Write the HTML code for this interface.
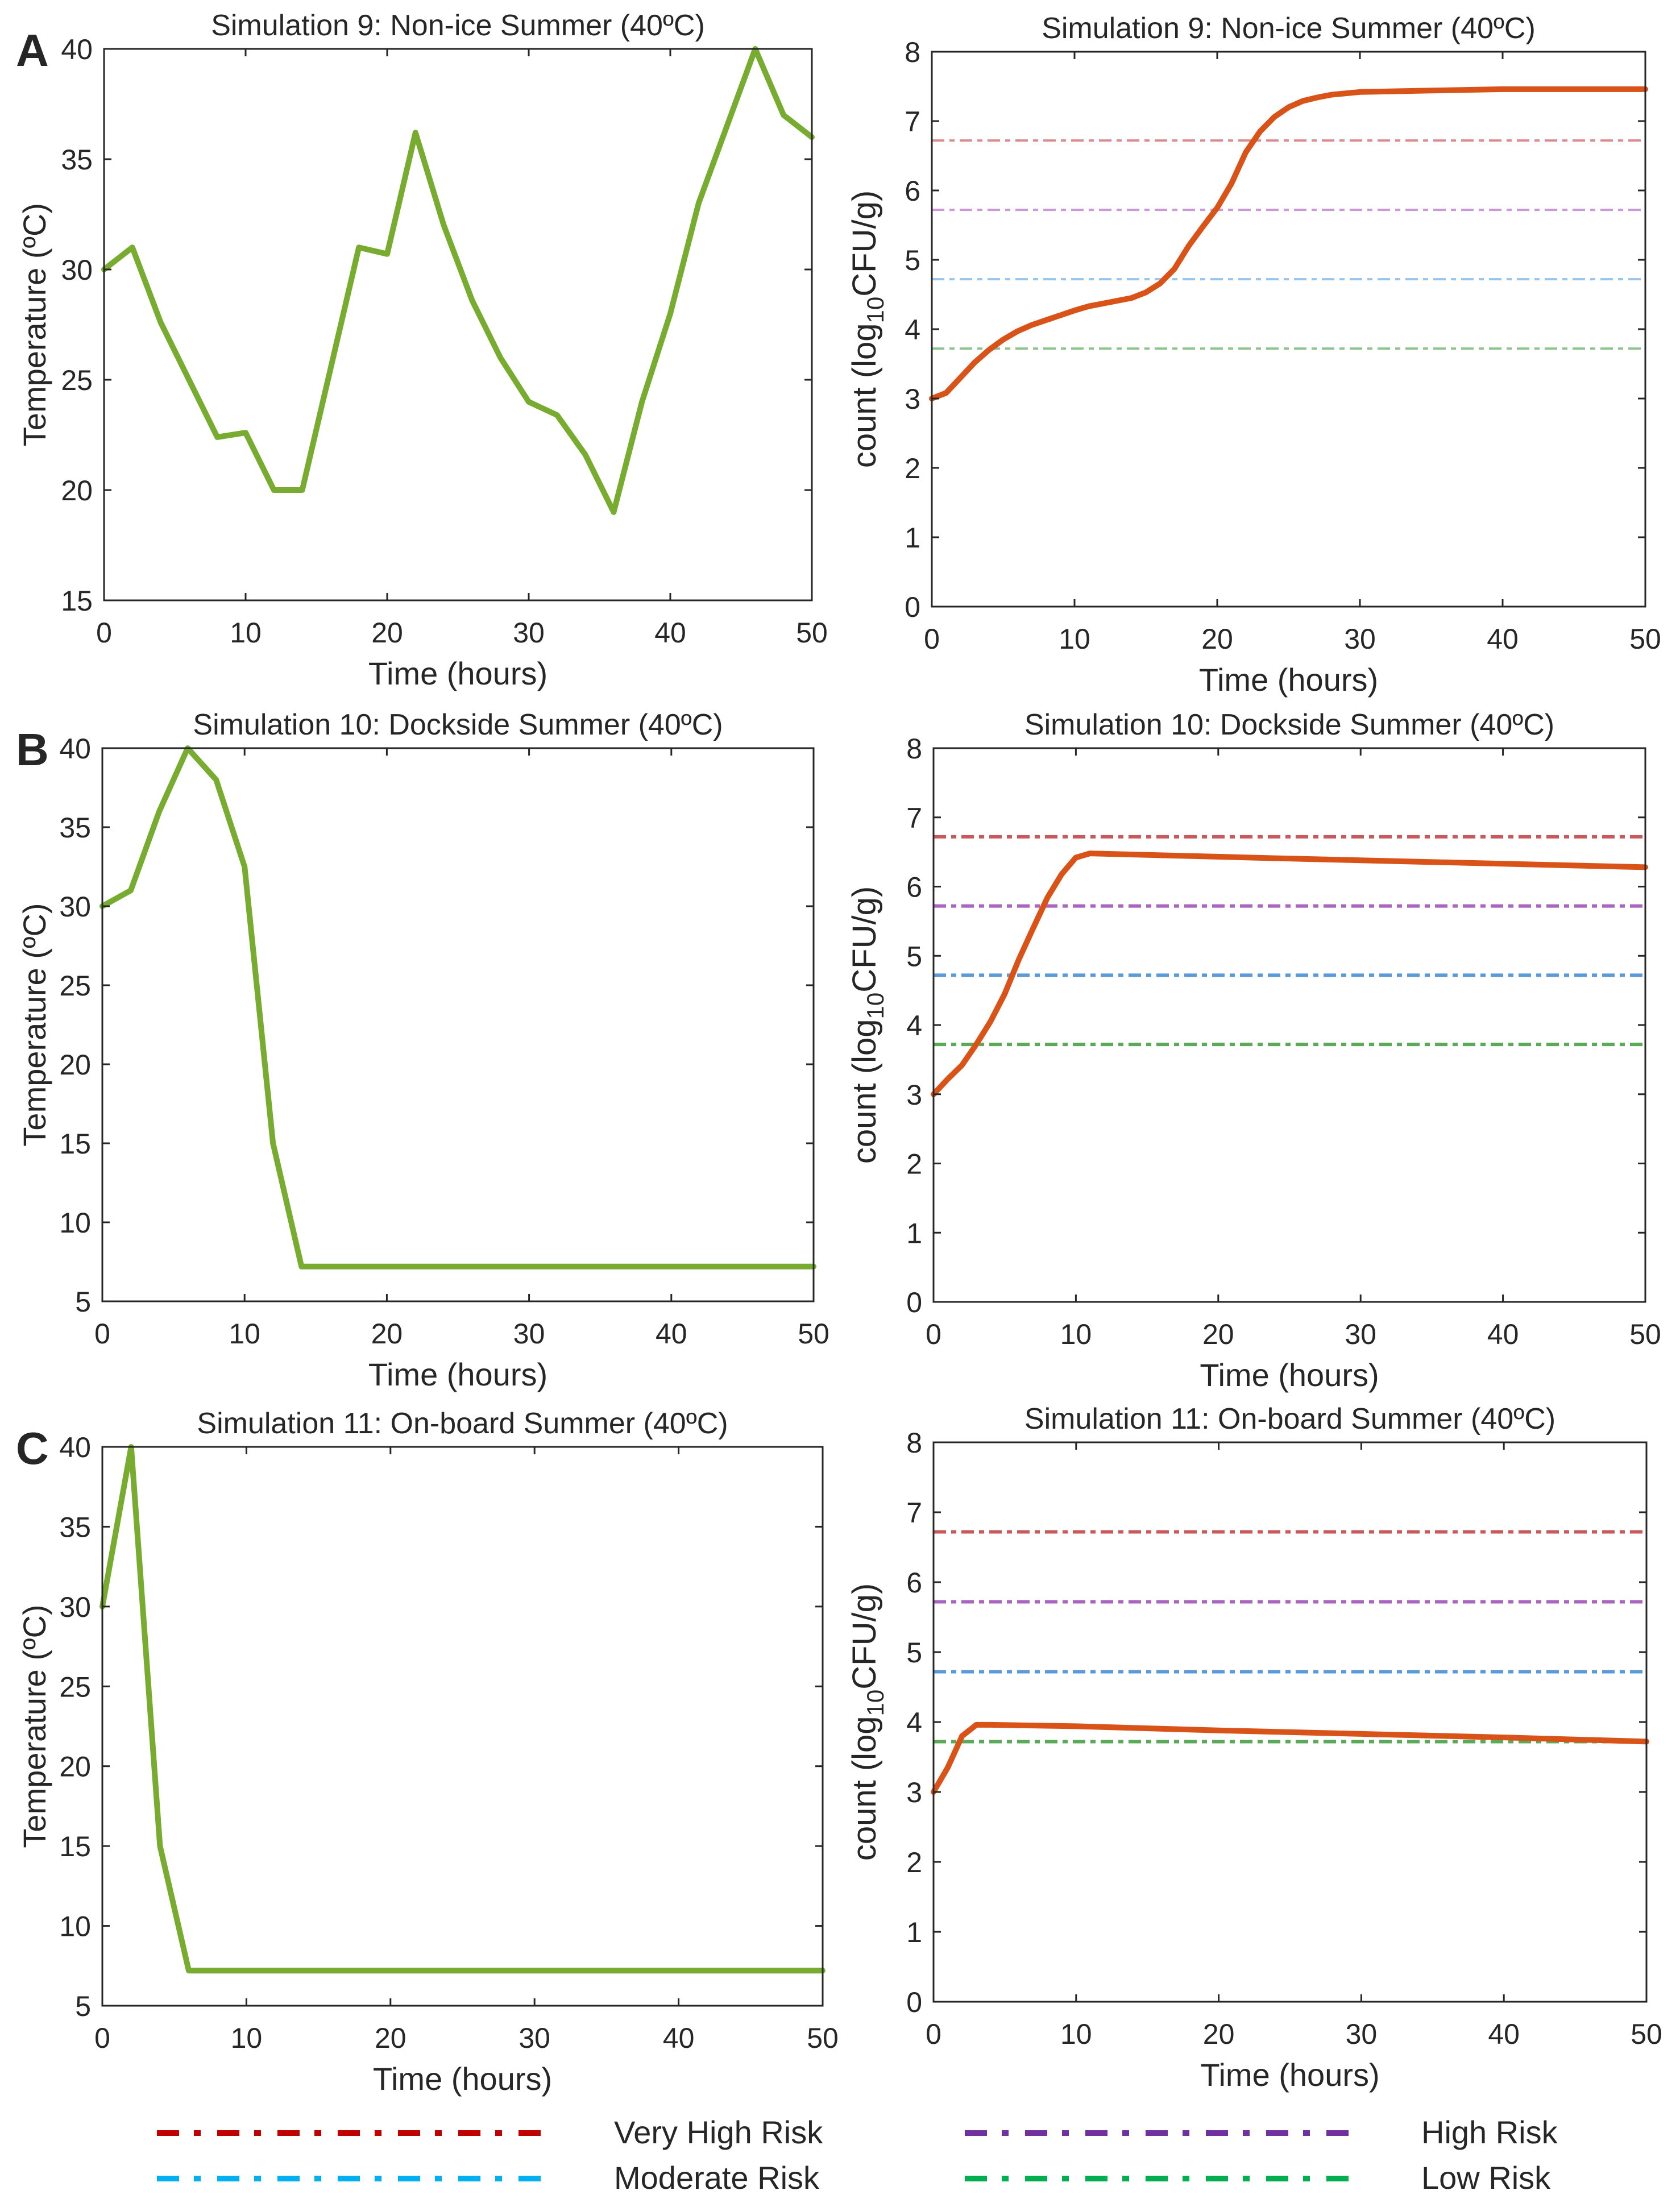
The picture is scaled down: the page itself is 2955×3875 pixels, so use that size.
<!DOCTYPE html>
<html><head><meta charset="utf-8"><title>Simulation charts</title>
<style>
html,body{margin:0;padding:0;background:#fff;}
svg{display:block;}
text{font-family:"Liberation Sans",Arial,sans-serif;fill:#262626;}
</style></head>
<body>
<svg id="fig" width="2955" height="3875" viewBox="0 0 2955 3875" xmlns="http://www.w3.org/2000/svg"></svg>
<script>
// ---- data ----
const timeA = [0,2,4,6,8,10,12,14,16,18,20,22,24,26,28,30,32,34,36,38,40,42,44,46,48,50];
const tempA = [30,31,27.6,25,22.4,22.6,20,20,25.5,31,30.7,36.2,32,28.6,26,24,23.4,21.6,19,24,28,33,36.5,40,37,36];
const countTimeA = [0,1,2,3,4,5,6,7,8,9,10,11,12,13,14,15,16,17,18,19,20,21,22,23,24,25,26,27,28,30,35,40,50];
const countA = [3.0,3.08,3.3,3.52,3.7,3.85,3.97,4.06,4.13,4.2,4.27,4.33,4.37,4.41,4.45,4.53,4.66,4.87,5.2,5.48,5.75,6.1,6.55,6.85,7.06,7.2,7.29,7.34,7.38,7.42,7.44,7.46,7.46];
const timeB = [0,2,4,6,8,10,12,14,50];
const tempB = [30,31,36,40,38,32.5,15,7.2,7.2];
const countTimeB = [0,1,2,3,4,5,6,7,8,9,10,11,24,50];
const countB = [3.0,3.22,3.42,3.72,4.05,4.45,4.95,5.4,5.84,6.18,6.42,6.48,6.41,6.28];
const timeC = [0,2,4,6,50];
const tempC = [30,40,15,7.2,7.2];
const countTimeC = [0,1,2,3,4,10,20,30,40,50];
const countC = [3.0,3.35,3.8,3.96,3.96,3.94,3.88,3.83,3.78,3.72];
const thresholds = [6.72,5.72,4.72,3.72];
const thresholdNames = ["very-high","high","moderate","low"];
const xTicks = [0,10,20,30,40,50];
const countTicks = [0,1,2,3,4,5,6,7,8];
const tempTicksA = [15,20,25,30,35,40];
const tempTicksBC = [5,10,15,20,25,30,35,40];
const legendLabels = ["Very High Risk","High Risk","Moderate Risk","Low Risk"];

const NS="http://www.w3.org/2000/svg";
const svg=document.getElementById('fig');
function mk(tag,attrs,parent){const e=document.createElementNS(NS,tag);for(const k in attrs)e.setAttribute(k,attrs[k]);(parent||svg).appendChild(e);return e;}

const thrFaint=["#dc8a8c","#c99ad6","#99c4ea","#8cc48c"];
const thrStrong=["#c95a5c","#a965bf","#5a9ad8","#5aaa5a"];

function panel(cfg){
  const g=mk('g',{});
  
  
  const L=cfg.x0,R=cfg.x1,T=cfg.y0,B=cfg.y1;
  const sx=v=>L+(v-0)/(50-0)*(R-L);
  const sy=v=>B-(v-cfg.ymin)/(cfg.ymax-cfg.ymin)*(B-T);
  if(cfg.thr){
    thresholds.forEach((t,i)=>{
      const ln=mk('line',{x1:L,x2:R,y1:sy(t),y2:sy(t),stroke:cfg.thrCol[i],'stroke-width':cfg.thrW,'stroke-dasharray':'22 9 9 9'},g);
      
      
    });
  }
  const pts=cfg.xs.map((x,i)=>sx(x).toFixed(1)+','+sy(cfg.ys[i]).toFixed(1)).join(' ');
  const pl=mk('polyline',{points:pts,fill:'none',stroke:cfg.color,'stroke-width':10,'stroke-linejoin':'round','stroke-linecap':'round'},g);
  
  
  const box=mk('rect',{x:L,y:T,width:R-L,height:B-T,fill:'none',stroke:'#262626','stroke-width':3},g);
  
  
  xTicks.forEach(v=>{
    const x=sx(v);
    mk('line',{x1:x,x2:x,y1:B,y2:B-13,stroke:'#262626','stroke-width':3},g);
    mk('line',{x1:x,x2:x,y1:T,y2:T+13,stroke:'#262626','stroke-width':3},g);
    const t=mk('text',{x:x,y:B+74,'font-size':50,'text-anchor':'middle'},g);
    t.textContent=v;
    
    
  });
  cfg.yTicks.forEach(v=>{
    const y=sy(v);
    mk('line',{x1:L,x2:L+13,y1:y,y2:y,stroke:'#262626','stroke-width':3},g);
    mk('line',{x1:R,x2:R-13,y1:y,y2:y,stroke:'#262626','stroke-width':3},g);
    const t=mk('text',{x:L-20,y:y+18,'font-size':50,'text-anchor':'end'},g);
    t.textContent=v;
    
    
  });
  const ti=mk('text',{x:(L+R)/2,y:T-24,'font-size':52,'text-anchor':'middle'},g);
  ti.textContent=cfg.title;
  
  
  const xl=mk('text',{x:(L+R)/2,y:B+148,'font-size':56,'text-anchor':'middle'},g);
  xl.textContent='Time (hours)';
  
  
  const cy=(T+B)/2, lx=cfg.ylabX;
  const yl=mk('text',{x:lx,y:cy,'font-size':cfg.count?58:56,'text-anchor':'middle',transform:`rotate(-90 ${lx} ${cy})`},g);
  
  
  if(cfg.count){
    yl.appendChild(document.createTextNode('count (log'));
    const s=mk('tspan',{'font-size':42,dy:14},yl);s.textContent='10';
    const s2=mk('tspan',{dy:-14},yl);s2.textContent='CFU/g)';
  } else yl.textContent='Temperature (ºC)';
  if(cfg.letter){
    const lt=mk('text',{x:28,y:T+30,'font-size':80,'font-weight':'bold',fill:'#000'},g);
    lt.textContent=cfg.letter;
    
    
  }
}

const GREEN="#77ac30",ORANGE="#d95319";
panel({name:'panel-a-temperature',letter:'A',x0:183,x1:1428,y0:86,y1:1056,ymin:15,ymax:40,yTicks:tempTicksA,xs:timeA,ys:tempA,color:GREEN,seriesName:'temperature-line',title:'Simulation 9: Non-ice Summer (40ºC)',ylabX:80});
panel({name:'panel-a-count',count:true,thr:true,thrCol:thrFaint,thrW:4,x0:1639,x1:2894,y0:91,y1:1067,ymin:0,ymax:8,yTicks:countTicks,xs:countTimeA,ys:countA,color:ORANGE,seriesName:'count-line',title:'Simulation 9: Non-ice Summer (40ºC)',ylabX:1540});
panel({name:'panel-b-temperature',letter:'B',x0:180,x1:1431,y0:1316,y1:2289,ymin:5,ymax:40,yTicks:tempTicksBC,xs:timeB,ys:tempB,color:GREEN,seriesName:'temperature-line',title:'Simulation 10: Dockside Summer (40ºC)',ylabX:80});
panel({name:'panel-b-count',count:true,thr:true,thrCol:thrStrong,thrW:6,x0:1642,x1:2894,y0:1316,y1:2290,ymin:0,ymax:8,yTicks:countTicks,xs:countTimeB,ys:countB,color:ORANGE,seriesName:'count-line',title:'Simulation 10: Dockside Summer (40ºC)',ylabX:1540});
panel({name:'panel-c-temperature',letter:'C',x0:180,x1:1447,y0:2545,y1:3528,ymin:5,ymax:40,yTicks:tempTicksBC,xs:timeC,ys:tempC,color:GREEN,seriesName:'temperature-line',title:'Simulation 11: On-board Summer (40ºC)',ylabX:80});
panel({name:'panel-c-count',count:true,thr:true,thrCol:thrStrong,thrW:6,x0:1642,x1:2896,y0:2537,y1:3521,ymin:0,ymax:8,yTicks:countTicks,xs:countTimeC,ys:countC,color:ORANGE,seriesName:'count-line',title:'Simulation 11: On-board Summer (40ºC)',ylabX:1540});

const legCols=["#c00000","#7030a0","#00b0f0","#00b050"];
const legPos=[[276,952,3752,1080],[1697,2374,3752,2500],[276,952,3832,1080],[1697,2374,3832,2500]];
legendLabels.forEach((lab,i)=>{
  const p=legPos[i];
  const g=mk('g',{});
  
  
  mk('line',{x1:p[0],x2:p[1],y1:p[2],y2:p[2],stroke:legCols[i],'stroke-width':10,'stroke-dasharray':'39 26 12 29'},g);
  const t=mk('text',{x:p[3],y:p[2]+18,'font-size':56,fill:'#000'},g);
  t.textContent=lab;
});
</script>
</body></html>
